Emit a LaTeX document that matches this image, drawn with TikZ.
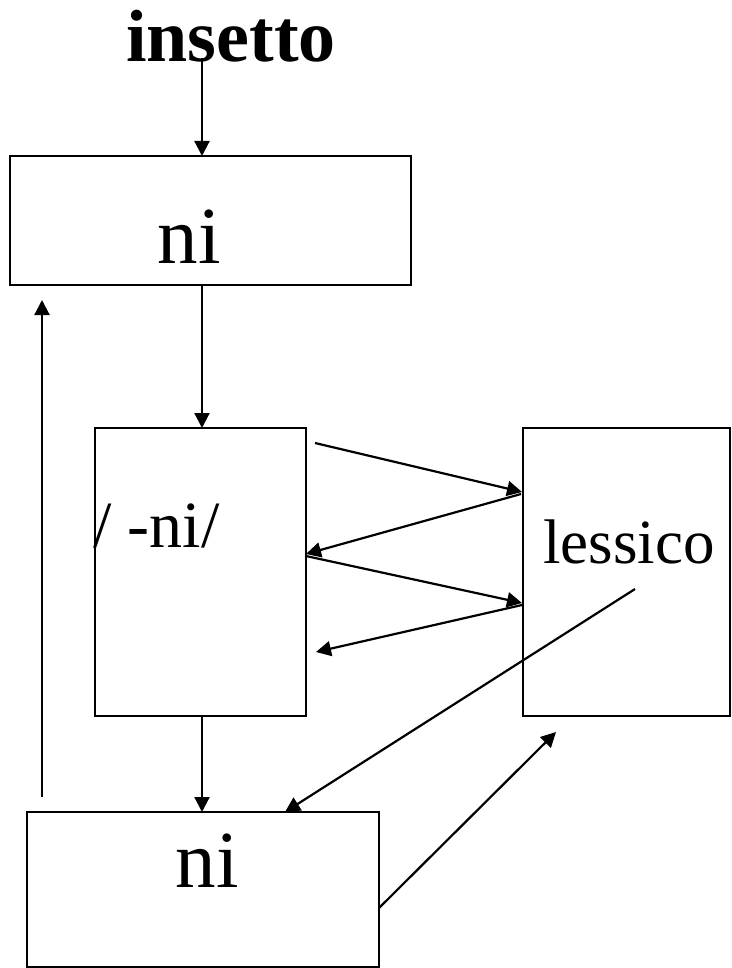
\documentclass[tikz,border=0pt]{standalone}
\usepackage{fontspec}
\setmainfont{Liberation Serif}
\usetikzlibrary{arrows.meta}

\tikzset{
  boxnode/.style={draw, line width=2.8pt, rectangle, inner sep=0pt, outer sep=0pt},
  lbl/.style={inner sep=0pt, outer sep=0pt, anchor=base},
  arr/.style={line width=2.2pt, -{Triangle[length=15pt,width=15pt]}}
}

\begin{document}
\begin{tikzpicture}[x=1pt,y=-1pt]
  \useasboundingbox (0,0) rectangle (731,968);

  % boxes
  \node[boxnode, minimum width=401pt, minimum height=129pt] (top) at (210.5,220.5) {};
  \node[boxnode, minimum width=211pt, minimum height=288pt] (mid) at (200.5,572) {};
  \node[boxnode, minimum width=207pt, minimum height=288pt] (lex) at (626.5,572) {};
  \node[boxnode, minimum width=352pt, minimum height=155pt] (bot) at (203,889.5) {};

  % texts
  \node[lbl] (title) at (231,62) {\fontsize{74}{80}\selectfont\bfseries insetto};
  \node[lbl] (topni) at (189,263) {\fontsize{81}{90}\selectfont ni};
  \node[lbl, anchor=base west] (midni) at (93,547) {\fontsize{66}{75}\selectfont / -ni/};
  \node[lbl] (lexlbl) at (629,563) {\fontsize{63}{72}\selectfont lessico};
  \node[lbl] (botni) at (207,887) {\fontsize{81}{90}\selectfont ni};

  % connector end points
  \coordinate (t0) at (202,58);
  \coordinate (t1) at (202,156);
  \coordinate (m0) at (202,285);
  \coordinate (m1) at (202,428);
  \coordinate (b0) at (202,716);
  \coordinate (b1) at (202,812);
  \coordinate (up0) at (42,797);
  \coordinate (up1) at (42,300);
  \coordinate (a1s) at (315,443);
  \coordinate (a1e) at (522,492);
  \coordinate (a2s) at (521,494);
  \coordinate (a2e) at (306,554);
  \coordinate (a3s) at (306,556);
  \coordinate (a3e) at (522,603);
  \coordinate (a4s) at (522,605);
  \coordinate (a4e) at (316,652);
  \coordinate (ls) at (635,589);
  \coordinate (le) at (285,812);
  \coordinate (rs) at (379,908);
  \coordinate (re) at (556,732);

  % connectors
  \draw[arr] (t0) -- (t1);
  \draw[arr] (m0) -- (m1);
  \draw[arr] (b0) -- (b1);
  \draw[arr] (up0) -- (up1);
  \draw[arr] (a1s) -- (a1e);
  \draw[arr] (a2s) -- (a2e);
  \draw[arr] (a3s) -- (a3e);
  \draw[arr] (a4s) -- (a4e);
  \draw[arr] (ls) -- (le);
  \draw[arr] (rs) -- (re);
\end{tikzpicture}
\end{document}
